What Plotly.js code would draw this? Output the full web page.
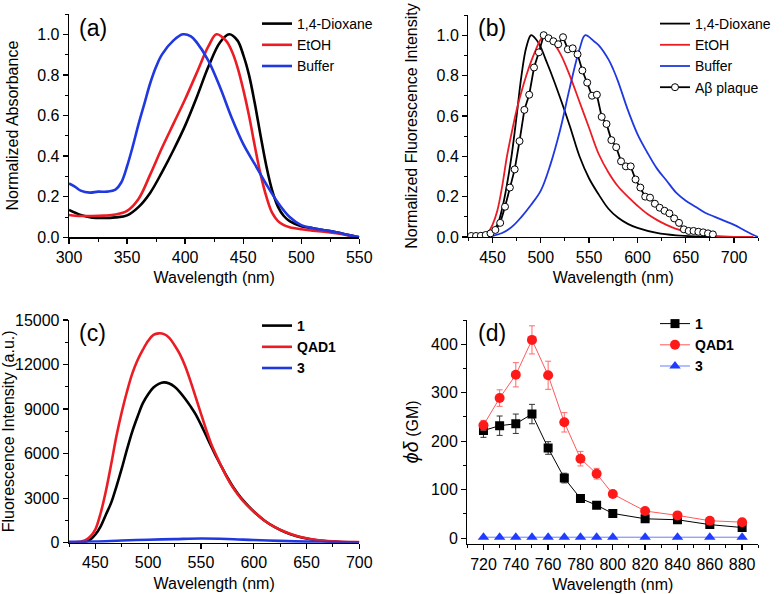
<!DOCTYPE html>
<html>
<head>
<meta charset="utf-8">
<script src="https://cdn.plot.ly/plotly-3.0.1.min.js"></script>
<style>
  html, body { margin: 0; padding: 0; background: #fff; }
  #chart { width: 784px; height: 594px; }
</style>
</head>
<body>
<div id="chart"></div>
<script>
// (a) normalized absorbance
var absWlDiox = [300,310,320,330,340,350,360,370,380,390,400,410,420,430,438,445,450,455,460,465,470,475,480,485,490,500,510,520,530,540,550]
var absDiox = [0.135,0.11,0.097,0.095,0.098,0.108,0.15,0.22,0.32,0.43,0.55,0.69,0.84,0.96,1.0,0.97,0.9,0.8,0.66,0.5,0.35,0.23,0.15,0.105,0.08,0.055,0.045,0.035,0.025,0.012,0.0]
var absWlEtoh = [300,310,320,330,340,350,360,370,380,390,400,410,420,427,435,440,445,450,455,460,465,470,475,480,485,490,500,510,520,530,540,550]
var absEtoh = [0.11,0.105,0.105,0.107,0.112,0.13,0.19,0.31,0.44,0.56,0.68,0.81,0.94,1.0,0.97,0.92,0.84,0.73,0.6,0.45,0.31,0.2,0.12,0.08,0.06,0.05,0.04,0.033,0.027,0.02,0.01,0.0]
var absWlBuf = [300,305,310,318,325,333,340,345,350,355,360,365,370,375,380,390,398,405,410,420,430,440,450,460,470,480,490,500,510,520,530,540,550]
var absBuf = [0.265,0.25,0.23,0.22,0.225,0.225,0.235,0.27,0.35,0.45,0.56,0.66,0.76,0.84,0.9,0.97,1.0,0.99,0.96,0.87,0.74,0.59,0.46,0.36,0.26,0.17,0.1,0.06,0.045,0.035,0.025,0.012,0.0]

// (b) normalized emission
var emWlDiox = [440,445,450,455,460,465,470,475,480,485,490,495,500,505,510,520,530,540,550,560,570,580,590,600,620,640,660,700]
var emDiox = [0.0,0.01,0.03,0.06,0.14,0.26,0.41,0.6,0.8,0.94,1.0,0.98,0.94,0.88,0.82,0.69,0.55,0.4,0.29,0.21,0.14,0.095,0.065,0.045,0.02,0.008,0.003,0.0]
var emWlEtoh = [435,440,445,450,455,460,465,470,475,480,485,490,495,500,505,510,520,530,540,550,560,570,580,590,600,610,620,630,640,660,680,700,720]
var emEtoh = [0.0,0.006,0.02,0.06,0.13,0.25,0.4,0.52,0.63,0.72,0.8,0.87,0.93,0.98,1.0,0.98,0.91,0.8,0.67,0.54,0.41,0.32,0.25,0.2,0.155,0.115,0.085,0.06,0.04,0.018,0.006,0.001,0.0]
var emWlBuf = [445,450,460,470,480,490,500,510,520,530,540,546,555,560,570,575,580,590,600,610,620,630,640,650,660,670,680,690,700,710,720,725]
var emBuf = [0.0,0.005,0.02,0.05,0.1,0.16,0.23,0.36,0.53,0.74,0.93,1.0,0.97,0.95,0.88,0.83,0.77,0.63,0.51,0.42,0.34,0.28,0.22,0.18,0.15,0.12,0.1,0.08,0.06,0.035,0.01,0.0]
var plaqueWl = [428,433,438,443,448,453,458,463,468,473,478,483,488,493,498,503,508,513,518,523,528,533,538,543,548,553,558,563,568,573,578,583,588,593,598,603,608,613,618,623,628,633,638,643,648,653,658,663,668,673,678]
var plaque = [0.005,0.005,0.006,0.01,0.018,0.035,0.07,0.15,0.245,0.335,0.475,0.63,0.705,0.84,0.915,1.0,0.985,0.97,0.955,0.99,0.93,0.935,0.905,0.825,0.765,0.70,0.705,0.595,0.56,0.48,0.445,0.375,0.35,0.35,0.285,0.245,0.20,0.195,0.165,0.145,0.13,0.117,0.092,0.07,0.038,0.03,0.03,0.026,0.023,0.018,0.013]

// (c) fluorescence intensity
var flWl = [425,430,435,440,445,450,455,460,465,470,475,480,485,490,495,500,505,510,515,520,525,530,535,540,545,550,555,560,565,570,575,580,585,590,600,610,620,630,640,650,660,670,680,690,700]
var fl1 = [0,0,0,50,200,550,1100,1900,2700,3800,5000,6300,7500,8500,9400,10000,10450,10700,10800,10720,10500,10150,9700,9200,8650,7950,7200,6450,5720,5050,4400,3800,3300,2850,2100,1500,1050,700,450,280,160,90,50,30,20]
var flQad1 = [0,20,60,150,400,900,2000,3500,5300,7200,8800,10200,11400,12300,13000,13600,14000,14100,14050,13800,13300,12700,11900,10900,9800,8700,7600,6600,5800,5050,4350,3750,3250,2800,2100,1500,1050,720,470,300,180,110,70,50,40]
var flWl3 = [425,450,475,500,525,550,575,600,625,650,675,700]
var fl3 = [60,80,150,200,240,280,250,180,120,70,40,20]

// (d) two-photon action cross section
var tpWl = [720,730,740,750,760,770,780,790,800,820,840,860,880]
var tp1 = [222,232,236,256,186,124,82,68,51,40,38,28,22]
var tp1Err = [14,20,20,20,13,10,6,4,3,2,2,2,2]
var tpQad1 = [233,289,337,409,336,239,164,133,91,56,47,36,33]
var tpQad1Err = [10,17,25,29,29,20,15,11,6,4,3,3,3]
var tp3 = [2,2,2,2,2,2,2,2,2,2,2,2,2]

var W = 784, H = 594
function px(x){ return x / W }
function py(y){ return 1 - y / H }

var RED = '#ec1c24'
var BLUE = '#2038e0'
var FONT = 'Liberation Sans, Arial, sans-serif'

function axis(extra){
	var base = {
		showline: true, linecolor: '#000', linewidth: 1.3,
		ticks: 'outside', ticklen: 5, tickwidth: 1.3, tickcolor: '#000',
		showgrid: false, zeroline: false,
		tickfont: {size: 16, color: '#000'},
		title: {font: {size: 16, color: '#000'}}
	}
	for (var k in extra) base[k] = extra[k]
	return base
}
function minor(d, t0){ return {tick0: t0 || 0, dtick: d, ticks: 'outside', ticklen: 3, tickwidth: 1, tickcolor: '#000'} }

var data = [
	{x: absWlDiox, y: absDiox, name: '1,4-Dioxane', mode: 'lines', line: {color: '#000', width: 2.6, shape: 'spline'}, xaxis: 'x', yaxis: 'y', legend: 'legend'},
	{x: absWlEtoh, y: absEtoh, name: 'EtOH', mode: 'lines', line: {color: RED, width: 2.6, shape: 'spline'}, xaxis: 'x', yaxis: 'y', legend: 'legend'},
	{x: absWlBuf, y: absBuf, name: 'Buffer', mode: 'lines', line: {color: BLUE, width: 2.6, shape: 'spline'}, xaxis: 'x', yaxis: 'y', legend: 'legend'},

	{x: emWlDiox, y: emDiox, name: '1,4-Dioxane', mode: 'lines', line: {color: '#000', width: 1.8, shape: 'spline'}, xaxis: 'x2', yaxis: 'y2', legend: 'legend2'},
	{x: emWlEtoh, y: emEtoh, name: 'EtOH', mode: 'lines', line: {color: RED, width: 1.8, shape: 'spline'}, xaxis: 'x2', yaxis: 'y2', legend: 'legend2'},
	{x: emWlBuf, y: emBuf, name: 'Buffer', mode: 'lines', line: {color: BLUE, width: 1.8, shape: 'spline'}, xaxis: 'x2', yaxis: 'y2', legend: 'legend2'},
	{x: plaqueWl, y: plaque, name: 'Aβ plaque', mode: 'lines+markers', line: {color: '#000', width: 1.8},
		marker: {symbol: 'circle', size: 7, color: '#fff', line: {color: '#000', width: 1}}, xaxis: 'x2', yaxis: 'y2', legend: 'legend2'},

	{x: flWl, y: fl1, name: '<b>1</b>', mode: 'lines', line: {color: '#000', width: 2.6, shape: 'spline'}, xaxis: 'x3', yaxis: 'y3', legend: 'legend3'},
	{x: flWl, y: flQad1, name: '<b>QAD1</b>', mode: 'lines', line: {color: RED, width: 2.6, shape: 'spline'}, xaxis: 'x3', yaxis: 'y3', legend: 'legend3'},
	{x: flWl3, y: fl3, name: '<b>3</b>', mode: 'lines', line: {color: BLUE, width: 2.6, shape: 'spline'}, xaxis: 'x3', yaxis: 'y3', legend: 'legend3'},

	{x: tpWl, y: tp1, name: '<b>1</b>', mode: 'lines+markers', line: {color: '#000', width: 1},
		marker: {symbol: 'square', size: 9, color: '#000'},
		error_y: {type: 'data', array: tp1Err, color: '#333', thickness: 1, width: 3},
		xaxis: 'x4', yaxis: 'y4', legend: 'legend4'},
	{x: tpWl, y: tpQad1, name: '<b>QAD1</b>', mode: 'lines+markers', line: {color: '#ff5a5a', width: 1},
		marker: {symbol: 'circle', size: 10, color: '#ff1a1a'},
		error_y: {type: 'data', array: tpQad1Err, color: '#ff6a6a', thickness: 1, width: 3},
		xaxis: 'x4', yaxis: 'y4', legend: 'legend4'},
	{x: tpWl, y: tp3, name: '<b>3</b>', mode: 'lines+markers', line: {color: '#6a7cff', width: 1},
		marker: {symbol: 'triangle-up', size: 10, color: '#1f3cff'},
		xaxis: 'x4', yaxis: 'y4', legend: 'legend4'}
]

function legendAt(x, y){
	return {x: px(x), y: py(y), xanchor: 'left', yanchor: 'top', bgcolor: 'rgba(0,0,0,0)',
		font: {size: 14, color: '#000'}, tracegroupgap: 0, itemwidth: 30}
}

function label(t, x, y){
	return {text: t, xref: 'paper', yref: 'paper', x: px(x), y: py(y), xanchor: 'left', yanchor: 'middle',
		showarrow: false, font: {size: 23, color: '#000'}}
}

var layout = {
	width: W, height: H,
	margin: {l: 0, r: 0, t: 0, b: 0},
	paper_bgcolor: '#fff', plot_bgcolor: 'rgba(0,0,0,0)',
	font: {family: FONT, color: '#000'},
	showlegend: true,

	xaxis: axis({domain: [px(69), px(359.3)], range: [300, 550], dtick: 50, minor: minor(25), anchor: 'y',
		title: {text: 'Wavelength (nm)', font: {size: 16}, standoff: 7}}),
	yaxis: axis({domain: [py(237.3), py(14)], range: [0, 1.1], dtick: 0.2, tickformat: '.1f', minor: minor(0.1), anchor: 'x',
		title: {text: 'Normalized Absorbance', font: {size: 16}, standoff: 14}}),

	xaxis2: axis({domain: [px(468.3), px(758.3)], range: [425, 725], tick0: 450, dtick: 50, minor: minor(25, 425), anchor: 'y2',
		title: {text: 'Wavelength (nm)', font: {size: 16}, standoff: 7}}),
	yaxis2: axis({domain: [py(237), py(15)], range: [0, 1.1], dtick: 0.2, tickformat: '.1f', minor: minor(0.1), anchor: 'x2',
		title: {text: 'Normalized Fluorescence Intensity', font: {size: 16}, standoff: 15}}),

	xaxis3: axis({domain: [px(69), px(359.3)], range: [425, 700], tick0: 450, dtick: 50, minor: minor(25, 425), anchor: 'y3',
		title: {text: 'Wavelength (nm)', font: {size: 16}, standoff: 7}}),
	yaxis3: axis({domain: [py(542.7), py(320)], range: [0, 15000], dtick: 3000, tickformat: 'd', minor: minor(1500), anchor: 'x3',
		title: {text: 'Fluorescence Intensity (a.u.)', font: {size: 16}, standoff: 4}}),

	xaxis4: axis({domain: [px(467.3), px(758.3)], range: [710, 890], dtick: 20, minor: minor(10), anchor: 'y4',
		title: {text: 'Wavelength (nm)', font: {size: 16}, standoff: 7}}),
	yaxis4: axis({domain: [py(544), py(320)], range: [-12, 450], tick0: 0, dtick: 100, minor: minor(50), anchor: 'x4',
		title: {text: '<i><span style="font-size:20px">ϕδ</span></i> (GM)', font: {size: 16}, standoff: 8}}),

	legend: legendAt(257, 8),
	legend2: legendAt(655, 8),
	legend3: legendAt(257, 310),
	legend4: legendAt(655, 308),

	annotations: [
		label('(a)', 77, 28),
		label('(b)', 476, 28),
		label('(c)', 77, 333),
		label('(d)', 476, 333)
	]
}

Plotly.newPlot('chart', data, layout, {displayModeBar: false, staticPlot: true})
</script>
</body>
</html>
